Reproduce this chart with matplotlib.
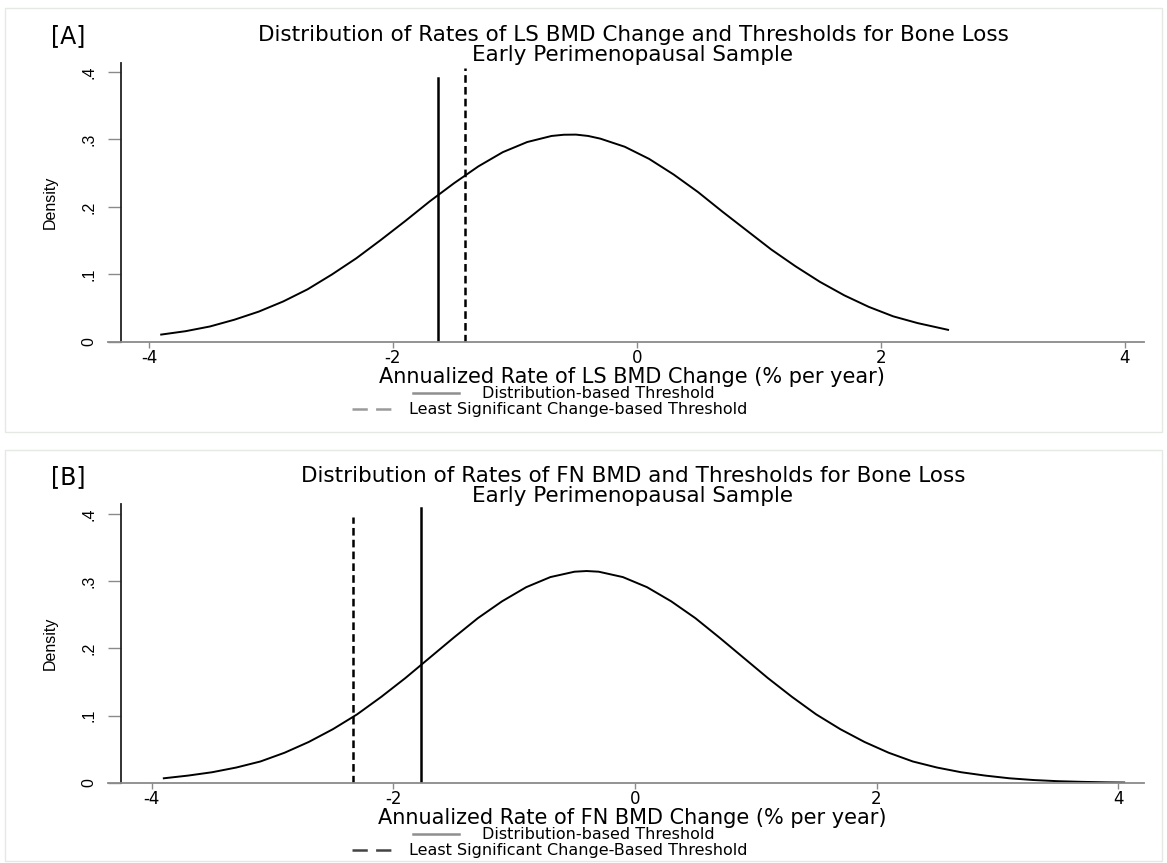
import matplotlib
matplotlib.use("Agg")
import matplotlib.pyplot as plt
from matplotlib.lines import Line2D
from matplotlib.patches import Rectangle

W, H = 1167, 863

# values
ls_x = [-3.9, -3.7, -3.5, -3.3, -3.1, -2.9, -2.7, -2.5, -2.3, -2.1, -1.9, -1.7,
        -1.5, -1.3, -1.1, -0.9, -0.7, -0.6, -0.5, -0.4, -0.3, -0.1, 0.1, 0.3,
        0.5, 0.7, 0.9, 1.1, 1.3, 1.5, 1.7, 1.9, 2.1, 2.3, 2.5, 2.55]
ls_density = [0.011, 0.016, 0.023, 0.033, 0.045, 0.060, 0.078, 0.100, 0.124, 0.151,
              0.179, 0.208, 0.235, 0.260, 0.281, 0.296, 0.305, 0.3068, 0.307,
              0.305, 0.301, 0.289, 0.271, 0.248, 0.222, 0.193, 0.165, 0.137,
              0.112, 0.089, 0.069, 0.052, 0.038, 0.028, 0.020, 0.018]
ls_dist_thr = -1.63
ls_lsc_thr = -1.41

fn_x = [-3.9, -3.7, -3.5, -3.3, -3.1, -2.9, -2.7, -2.5, -2.3, -2.1, -1.9, -1.7,
        -1.5, -1.3, -1.1, -0.9, -0.7, -0.5, -0.4, -0.3, -0.1, 0.1, 0.3, 0.5,
        0.7, 0.9, 1.1, 1.3, 1.5, 1.7, 1.9, 2.1, 2.3, 2.5, 2.7, 2.9, 3.1, 3.3,
        3.5, 3.7, 3.9, 4.05]
fn_density = [0.007, 0.011, 0.016, 0.023, 0.032, 0.045, 0.061, 0.080, 0.102, 0.128,
              0.156, 0.186, 0.216, 0.245, 0.270, 0.291, 0.306, 0.314, 0.315,
              0.314, 0.306, 0.291, 0.270, 0.245, 0.216, 0.186, 0.156, 0.128,
              0.102, 0.080, 0.061, 0.045, 0.032, 0.023, 0.016, 0.011, 0.007,
              0.0044, 0.0027, 0.0017, 0.0010, 0.0007]
fn_dist_thr = -1.77
fn_lsc_thr = -2.33

xticks = [-4, -2, 0, 2, 4]
yticks = [0, 0.1, 0.2, 0.3, 0.4]
ytick_labels = ["0", ".1", ".2", ".3", ".4"]

plt.rcParams["lines.scale_dashes"] = False
plt.rcParams["font.family"] = ["DejaVu Sans"]

fig = plt.figure(figsize=(W / 100, H / 100), dpi=100)
fig.patch.set_facecolor("white")


def fx(px):
    return px / W


def fy(py):
    return 1 - py / H


def panel(top, bottom, xlim, ytop, yaxis_x, x, dens, dist_thr, lsc_thr,
          dist_top, lsc_top, tag, title1, title2, xlabel, leg2, leg2_color):
    ax = fig.add_axes([fx(108), fy(bottom), fx(1144 - 108), (bottom - top) / H])
    ax.set_xlim(*xlim)
    ax.set_ylim(0, ytop)
    ax.patch.set_alpha(0)
    ax.spines["top"].set_visible(False)
    ax.spines["right"].set_visible(False)
    ax.spines["left"].set_position(("data", yaxis_x))
    ax.spines["left"].set_color("#222222")
    ax.spines["left"].set_linewidth(1.3)
    ax.spines["bottom"].set_color("#8a8a8a")
    ax.spines["bottom"].set_linewidth(1.3)

    ax.plot(x, dens, color="black", lw=1.4)
    ax.plot([dist_thr, dist_thr], [0, dist_top], color="black", lw=1.8)
    ax.plot([lsc_thr, lsc_thr], [0, lsc_top], color="black", lw=1.8,
            dashes=(5.5, 3))

    ax.set_xticks(xticks)
    ax.set_xticklabels([str(t) for t in xticks], fontsize=12)
    ax.set_yticks(yticks)
    ax.set_yticklabels(ytick_labels, rotation=90, va="center",
                       family="Liberation Sans", fontsize=11.5)
    ax.tick_params(axis="x", length=4.3, width=1, color="#8a8a8a", pad=0.5)
    ax.tick_params(axis="y", length=9.4, width=1, color="#8a8a8a", pad=8)

    # text around the plot
    fig.text(fx(68), fy(top - 27), tag, fontsize=17, ha="center", va="center")
    fig.text(fx(633), fy(top - 28), title1, fontsize=15.5, ha="center",
             va="center")
    fig.text(fx(633), fy(top - 8), title2, fontsize=15.5, ha="center",
             va="center")
    fig.text(fx(50), fy((top + bottom) / 2), "Density", rotation=90,
             family="Liberation Sans", fontsize=11.5, ha="center", va="center")
    fig.text(fx(632), fy(bottom + 35), xlabel, fontsize=15, ha="center",
             va="center")

    y1 = bottom + 51
    y2 = bottom + 67
    fig.add_artist(Line2D([fx(413), fx(459)], [fy(y1), fy(y1)],
                          color="#8f8f8f", lw=1.8))
    fig.text(fx(482), fy(y1), "Distribution-based Threshold", fontsize=11.5,
             ha="left", va="center")
    fig.add_artist(Line2D([fx(352), fx(394)], [fy(y2), fy(y2)],
                          color=leg2_color, lw=1.8, dashes=(11, 6)))
    fig.text(fx(409), fy(y2), leg2, fontsize=11.5, ha="left", va="center")
    return ax


# faint frames of the two combined graphs
fig.add_artist(Rectangle((fx(5), fy(432)), fx(1157), (432 - 8) / H,
                         fill=False, ec="#e4e9e4", lw=1))
fig.add_artist(Rectangle((fx(5), fy(861)), fx(1157), (861 - 450) / H,
                         fill=False, ec="#e4e9e4", lw=1))

panel(63, 342, (-4.336, 4.156), 0.413, -4.23, ls_x, ls_density,
      ls_dist_thr, ls_lsc_thr, 0.391, 0.406, "[A]",
      "Distribution of Rates of LS BMD Change and Thresholds for Bone Loss",
      "Early Perimenopausal Sample",
      "Annualized Rate of LS BMD Change (% per year)",
      "Least Significant Change-based Threshold", "#9a9a9a")

panel(504, 783, (-4.362, 4.214), 0.4146, -4.257, fn_x, fn_density,
      fn_dist_thr, fn_lsc_thr, 0.409, 0.395, "[B]",
      "Distribution of Rates of FN BMD and Thresholds for Bone Loss",
      "Early Perimenopausal Sample",
      "Annualized Rate of FN BMD Change (% per year)",
      "Least Significant Change-Based Threshold", "#444444")

fig.savefig("out.png", dpi=100)
